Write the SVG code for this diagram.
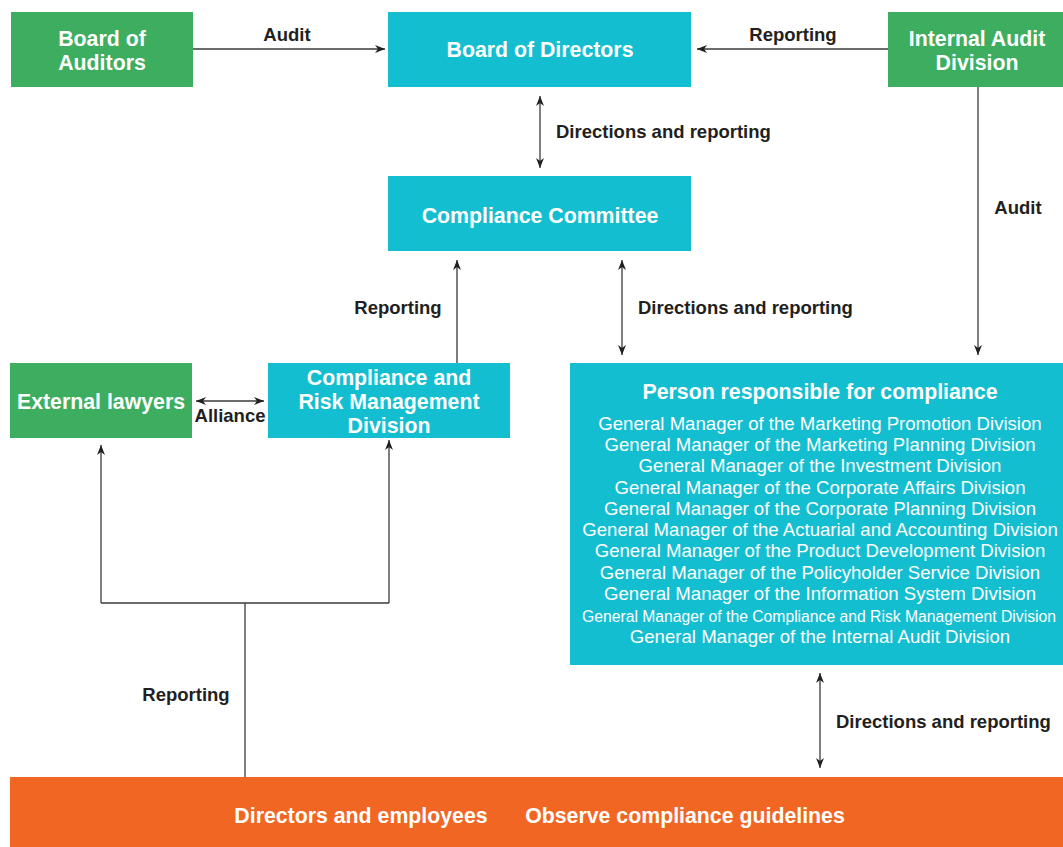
<svg xmlns="http://www.w3.org/2000/svg" width="1063" height="847" viewBox="0 0 1063 847">
<style>
.g{fill:#3DAE60}
.c{fill:#14BED1}
.o{fill:#F26624}
.t{font-family:"Liberation Sans",Arial,sans-serif;font-weight:bold;font-size:21.3px;fill:#fff;text-anchor:middle}
.l{font-family:"Liberation Sans",Arial,sans-serif;font-weight:bold;font-size:18.5px;fill:#231F20}
.p{font-family:"Liberation Sans",Arial,sans-serif;font-size:18.6px;fill:#fff;text-anchor:middle}
.ln{stroke:#3a3a3a;stroke-width:1.3;fill:none}
</style>
<defs>
<marker id="ah" viewBox="0 0 10 10" refX="10" refY="5" markerWidth="10" markerHeight="10" markerUnits="userSpaceOnUse" orient="auto-start-reverse">
<path d="M0,1 L10,5 L0,9 L3,5 Z" fill="#231F20"/>
</marker>
</defs>
<g id="connectors">
<line class="ln" x1="193" y1="49" x2="385" y2="49" marker-end="url(#ah)"/>
<line class="ln" x1="888" y1="49" x2="697" y2="49" marker-end="url(#ah)"/>
<line class="ln" x1="540" y1="96" x2="540" y2="168" marker-start="url(#ah)" marker-end="url(#ah)"/>
<line class="ln" x1="457" y1="363" x2="457" y2="260" marker-end="url(#ah)"/>
<line class="ln" x1="622" y1="260" x2="622" y2="355" marker-start="url(#ah)" marker-end="url(#ah)"/>
<line class="ln" x1="978" y1="87" x2="978" y2="355" marker-end="url(#ah)"/>
<line class="ln" x1="196" y1="401" x2="264" y2="401" marker-start="url(#ah)" marker-end="url(#ah)"/>
<polyline class="ln" points="101,603 101,445" marker-end="url(#ah)"/>
<polyline class="ln" points="389,603 389,440" marker-end="url(#ah)"/>
<line class="ln" x1="101" y1="603" x2="389" y2="603"/>
<line class="ln" x1="245" y1="603" x2="245" y2="777"/>
<line class="ln" x1="820" y1="673" x2="820" y2="768" marker-start="url(#ah)" marker-end="url(#ah)"/>
<text class="l" x="287" y="41" text-anchor="middle">Audit</text>
<text class="l" x="793" y="41" text-anchor="middle">Reporting</text>
<text class="l" x="556" y="138">Directions and reporting</text>
<text class="l" x="398" y="314" text-anchor="middle">Reporting</text>
<text class="l" x="638" y="314">Directions and reporting</text>
<text class="l" x="1018" y="214" text-anchor="middle">Audit</text>
<text class="l" x="230" y="422" text-anchor="middle">Alliance</text>
<text class="l" x="186" y="701" text-anchor="middle">Reporting</text>
<text class="l" x="836" y="728">Directions and reporting</text>
</g>
<g id="board-of-auditors">
<rect class="g" x="11" y="12" width="182" height="75"/>
<text class="t" x="102" y="46">Board of</text>
<text class="t" x="102" y="70">Auditors</text>
</g>
<g id="board-of-directors">
<rect class="c" x="388" y="12" width="303" height="75"/>
<text class="t" x="540" y="57">Board of Directors</text>
</g>
<g id="internal-audit-division">
<rect class="g" x="888" y="12" width="175" height="75"/>
<text class="t" x="977" y="46">Internal Audit</text>
<text class="t" x="977" y="70">Division</text>
</g>
<g id="compliance-committee">
<rect class="c" x="388" y="176" width="303" height="75"/>
<text class="t" x="540" y="223">Compliance Committee</text>
</g>
<g id="external-lawyers">
<rect class="g" x="10" y="363" width="182" height="75"/>
<text class="t" x="101" y="409">External lawyers</text>
</g>
<g id="compliance-risk-division">
<rect class="c" x="268" y="363" width="242" height="75"/>
<text class="t" x="389" y="385">Compliance and</text>
<text class="t" x="389" y="409">Risk Management</text>
<text class="t" x="389" y="433">Division</text>
</g>
<g id="person-responsible">
<rect class="c" x="570" y="363" width="493" height="302"/>
<text class="t" x="820" y="399">Person responsible for compliance</text>
<text class="p" x="820" y="430">General Manager of the Marketing Promotion Division</text>
<text class="p" x="820" y="451">General Manager of the Marketing Planning Division</text>
<text class="p" x="820" y="472">General Manager of the Investment Division</text>
<text class="p" x="820" y="494">General Manager of the Corporate Affairs Division</text>
<text class="p" x="820" y="515">General Manager of the Corporate Planning Division</text>
<text class="p" x="820" y="536">General Manager of the Actuarial and Accounting Division</text>
<text class="p" x="820" y="557">General Manager of the Product Development Division</text>
<text class="p" x="820" y="579">General Manager of the Policyholder Service Division</text>
<text class="p" x="820" y="600">General Manager of the Information System Division</text>
<text class="p" x="819" y="622" style="font-size:15.6px" textLength="474" lengthAdjust="spacingAndGlyphs">General Manager of the Compliance and Risk Management Division</text>
<text class="p" x="820" y="643">General Manager of the Internal Audit Division</text>
</g>
<g id="directors-and-employees">
<rect class="o" x="10" y="777" width="1053" height="70"/>
<text class="t" x="361" y="823">Directors and employees</text>
<text class="t" x="685" y="823">Observe compliance guidelines</text>
</g>
</svg>
